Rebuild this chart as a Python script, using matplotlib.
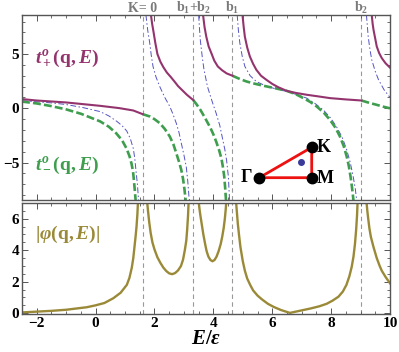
import numpy as np
import matplotlib
matplotlib.use("Agg")
import matplotlib.pyplot as plt
from matplotlib.ticker import MultipleLocator

plt.rcParams['mathtext.fontset'] = 'custom'
plt.rcParams['mathtext.rm'] = 'Liberation Serif:bold'
plt.rcParams['mathtext.it'] = 'Liberation Serif:bold:italic'
plt.rcParams['mathtext.bf'] = 'Liberation Serif:bold'
plt.rcParams['font.family'] = ['Liberation Serif', 'DejaVu Serif']
plt.rcParams['font.weight'] = 'bold'

# ---------------- data ----------------
vline_E = [1.6, 3.32, 4.65, 9.03]
vline_labels = ["K= 0", r"b$_\mathbf{1}$+b$_\mathbf{2}$", r"b$_\mathbf{1}$", r"b$_\mathbf{2}$"]

# t_+^o (purple solid), branches
tp_E = [
    [-2.5, -2.0, -1.0, 0.15, 0.8, 1.28, 1.6],
    [1.88, 1.92, 1.97, 2.03, 2.1, 2.2, 2.3, 2.42, 2.55, 2.7, 2.8, 2.95, 3.1, 3.32],
    [3.65, 3.7, 3.76, 3.84, 3.93, 4.03, 4.15, 4.3, 4.45, 4.65],
    [4.99, 5.03, 5.07, 5.15, 5.24, 5.35, 5.46, 5.62, 5.8, 6.0, 6.2, 6.49, 6.8, 7.17, 7.56, 7.96, 8.5, 9.03],
    [9.38, 9.41, 9.44, 9.5, 9.55, 9.63, 9.72, 9.85, 10.0],
]
tp_t = [
    [0.85, 0.72, 0.54, 0.23, 0.02, -0.2, -0.54],
    [8.6, 7.8, 7.0, 6.0, 5.0, 4.3, 3.8, 3.3, 2.9, 2.4, 2.05, 1.65, 1.25, 0.75],
    [8.6, 7.5, 6.6, 5.7, 5.1, 4.4, 3.86, 3.5, 3.22, 3.0],
    [8.6, 7.5, 6.6, 5.6, 4.78, 4.1, 3.55, 3.0, 2.63, 2.25, 1.95, 1.61, 1.42, 1.25, 1.1, 0.94, 0.82, 0.72],
    [8.6, 7.8, 7.24, 6.4, 5.7, 5.1, 4.63, 4.15, 3.75],
]

# t_-^o (green dashed), branches
tm_E = [
    [-2.5, -2.0, -1.5, -1.0, -0.5, 0.15, 0.45, 0.7, 0.9, 1.05, 1.15, 1.22, 1.27, 1.30, 1.33, 1.36],
    [1.6, 1.84, 2.0, 2.18, 2.35, 2.52, 2.64, 2.74, 2.83, 2.91, 2.97, 3.02, 3.06],
    [3.32, 3.42, 3.55, 3.7, 3.8, 3.9, 4.0, 4.1, 4.2, 4.28, 4.33, 4.37, 4.4, 4.43],
    [4.65, 4.9, 5.13, 5.4, 5.7, 6.1, 6.49, 6.8, 7.06, 7.3, 7.51, 7.75, 7.96, 8.15, 8.3, 8.43, 8.53, 8.6, 8.66, 8.71, 8.76],
    [9.03, 9.3, 9.55, 9.8, 10.0],
]
tm_t = [
    [0.62, 0.45, 0.2, -0.1, -0.5, -1.2, -1.7, -2.3, -2.95, -3.7, -4.4, -5.1, -5.8, -6.6, -7.5, -8.5],
    [-0.54, -0.75, -1.0, -1.37, -1.9, -2.6, -3.3, -4.13, -4.9, -5.67, -6.5, -7.5, -8.5],
    [0.75, 0.4, -0.1, -0.8, -1.3, -1.8, -2.4, -3.1, -3.9, -4.7, -5.5, -6.3, -7.3, -8.5],
    [3.0, 2.7, 2.47, 2.27, 2.08, 1.85, 1.61, 1.3, 0.94, 0.57, 0.17, -0.4, -1.06, -1.8, -2.6, -3.5, -4.45, -5.3, -6.3, -7.3, -8.5],
    [0.72, 0.5, 0.32, 0.13, 0.0],
]

# auxiliary (blue dash-dot), branches
tb_E = [
    [-2.5, -1.5, -1.0, -0.4, 0.15, 0.45, 0.72, 0.9, 1.06, 1.18, 1.28, 1.33, 1.37, 1.42, 1.46],
    [1.71, 1.77, 1.84, 1.89, 1.95, 2.05, 2.18, 2.35, 2.52, 2.63, 2.74, 2.83, 2.91, 3.0, 3.08, 3.13, 3.17, 3.19],
    [3.5, 3.53, 3.56, 3.62, 3.68, 3.8, 3.95, 4.1, 4.22, 4.32, 4.39, 4.45, 4.51, 4.55],
    [4.81, 4.85, 4.9, 4.98, 5.07, 5.25, 5.46, 5.75, 6.03, 6.49, 6.85, 7.17, 7.45, 7.73, 7.97, 8.18, 8.38, 8.53, 8.65, 8.75, 8.82, 8.87],
    [9.2, 9.26, 9.32, 9.38, 9.5, 9.61, 9.8, 10.0],
]
tb_t = [
    [0.7, 0.5, 0.35, 0.05, -0.3, -0.7, -1.2, -1.6, -2.1, -2.8, -3.7, -4.6, -5.7, -7.0, -8.5],
    [8.6, 7.2, 6.0, 4.9, 3.86, 2.9, 2.0, 1.0, 0.17, -0.55, -1.37, -2.2, -3.2, -4.3, -5.4, -6.7, -8.1, -8.5],
    [8.6, 7.3, 6.2, 4.8, 3.6, 2.0, 0.7, -0.5, -1.6, -2.9, -3.8, -4.8, -6.3, -8.5],
    [8.6, 7.2, 6.0, 4.8, 3.86, 3.0, 2.47, 2.1, 1.86, 1.55, 1.25, 0.94, 0.45, -0.14, -0.85, -1.68, -2.7, -3.83, -5.0, -6.3, -7.4, -8.5],
    [8.6, 6.6, 5.4, 4.47, 3.4, 2.63, 1.7, 1.0],
]

# |phi(q,E)| (olive), branches
ph_E = [
    [-2.5, -1.5, -1.0, -0.3, 0.0, 0.3, 0.6, 0.85, 1.06, 1.15, 1.23, 1.28, 1.32, 1.36, 1.39, 1.42, 1.44],
    [1.75, 1.78, 1.82, 1.87, 1.93, 2.0, 2.1, 2.2, 2.3, 2.4, 2.5, 2.6, 2.7, 2.8, 2.9, 2.97, 3.03, 3.08, 3.11, 3.14, 3.16],
    [3.5, 3.53, 3.56, 3.61, 3.66, 3.72, 3.77, 3.83, 3.9, 3.97, 4.04, 4.11, 4.18, 4.25, 4.3, 4.35, 4.39, 4.42, 4.44],
    [4.77, 4.8, 4.83, 4.87, 4.92, 5.0, 5.07, 5.15, 5.25, 5.35, 5.5, 5.65, 5.85, 6.05, 6.3, 6.6,
     6.8, 7.0, 7.3, 7.6, 7.85, 8.05, 8.25, 8.4, 8.52, 8.62, 8.7, 8.76, 8.81, 8.85, 8.88, 8.9],
    [9.2, 9.23, 9.26, 9.3, 9.35, 9.44, 9.55, 9.65, 9.72, 9.85, 10.0],
]
ph_v = [
    [0.05, 0.15, 0.22, 0.38, 0.5, 0.65, 0.95, 1.3, 1.8, 2.25, 2.9, 3.5, 4.2, 4.9, 5.5, 6.3, 7.1],
    [7.1, 6.5, 5.8, 5.1, 4.5, 4.05, 3.55, 3.2, 2.9, 2.68, 2.53, 2.48, 2.55, 2.72, 3.0, 3.4, 4.0, 4.6, 5.3, 6.2, 7.1],
    [7.1, 6.6, 6.2, 5.6, 5.0, 4.4, 3.95, 3.6, 3.38, 3.3, 3.38, 3.6, 3.95, 4.4, 4.85, 5.4, 6.0, 6.6, 7.1],
    [7.1, 6.4, 5.7, 5.0, 4.2, 3.3, 2.7, 2.2, 1.8, 1.45, 1.12, 0.88, 0.6, 0.4, 0.2, 0.02,
     0.1, 0.18, 0.3, 0.44, 0.6, 0.8, 1.05, 1.38, 1.8, 2.35, 2.95, 3.6, 4.4, 5.3, 6.2, 7.1],
    [7.1, 6.5, 6.0, 5.4, 4.85, 4.2, 3.5, 3.0, 2.7, 2.3, 1.9],
]

# Brillouin-zone inset: Gamma, K, M and the q point
bz_names = ["Γ", "K", "M"]
bz_x = [0.0, 1.0, 1.0]
bz_y = [0.0, 0.58, 0.0]
q_point = (0.80, 0.29)

# ---------------- styling ----------------
c_plus = '#94346e'
c_minus = '#3e9e4e'
c_blue = '#5454c4'
c_phi = '#9a8a38'
c_frame = '#555555'

fig = plt.figure(figsize=(3.99, 3.52), dpi=100)
ax1 = fig.add_axes([22/399, 1-200/352, 368/399, 185/352])
ax2 = fig.add_axes([22/399, 1-314/352, 368/399, 111/352])

for E, t in zip(tb_E, tb_t):
    ax1.plot(E, t, color=c_blue, lw=0.7, ls=(0, (6, 2.5, 1.5, 2.5)))
for E, t in zip(tm_E, tm_t):
    ax1.plot(E, t, color=c_minus, lw=1.9, ls=(0, (3.0, 1.2)))
for E, t in zip(tp_E, tp_t):
    ax1.plot(E, t, color=c_plus, lw=1.5)
for E, v in zip(ph_E, ph_v):
    ax2.plot(E, v, color=c_phi, lw=1.7)

for ax in (ax1, ax2):
    for e in vline_E:
        ax.axvline(e, color='#999999', lw=0.8, ls=(0, (4, 3)), zorder=0)
    ax.set_xlim(-2.5, 10)
    ax.xaxis.set_major_locator(MultipleLocator(2))
    ax.xaxis.set_minor_locator(MultipleLocator(0.5))
    ax.tick_params(which='both', direction='in', top=True, right=True,
                   color=c_frame, labelsize=11, pad=2)
    ax.tick_params(which='major', length=4, width=0.7)
    ax.tick_params(which='minor', length=2.2, width=0.6)
    for s in ax.spines.values():
        s.set_color(c_frame)
        s.set_linewidth(1.0)
    for lab in ax.get_xticklabels() + ax.get_yticklabels():
        lab.set_fontweight('bold')

ax1.set_ylim(-8.45, 8.6)
ax1.yaxis.set_major_locator(MultipleLocator(5))
ax1.yaxis.set_minor_locator(MultipleLocator(1))
ax1.tick_params(labelbottom=False)

ax2.set_ylim(-0.05, 7.0)
ax2.yaxis.set_major_locator(MultipleLocator(2))
ax2.yaxis.set_minor_locator(MultipleLocator(0.5))
ax2.set_xlabel(r"$E/\varepsilon$", fontsize=15, labelpad=0)

for e, lab in zip(vline_E, vline_labels):
    ax1.text(e, 8.9, lab, ha='center', va='baseline', color='#7a7a7a',
             fontsize=10, fontweight='bold')

ax1.text(-2.05, 4.6, r"$t^o_+(\mathbf{q},E)$", color=c_plus, fontsize=14,
         ha='left', va='center')
ax1.text(-2.05, -5.3, r"$t^o_-(\mathbf{q},E)$", color=c_minus, fontsize=14,
         ha='left', va='center')
ax2.text(-2.05, 5.0, r"$|\varphi(\mathbf{q},E)|$", color=c_phi, fontsize=14,
         ha='left', va='center')

# inset
axi = fig.add_axes([240/399, 1-190/352, 90/399, 55/352])
axi.set_xlim(-0.368, 1.349)
axi.set_ylim(-0.235, 0.815)
axi.axis('off')
axi.plot(bz_x + [bz_x[0]], bz_y + [bz_y[0]], color='#ee1111', lw=2.0, zorder=1)
axi.plot(bz_x, bz_y, 'o', color='black', ms=7.5, zorder=2)
axi.plot([q_point[0]], [q_point[1]], 'o', color='#3a3a9a', ms=4, zorder=2)
offs = {"Γ": (-0.13, 0.0, 'right'), "K": (0.1, 0.0, 'left'), "M": (0.1, -0.02, 'left')}
for n, x, y in zip(bz_names, bz_x, bz_y):
    dx, dy, ha = offs[n]
    axi.text(x + dx, y + dy, n, fontsize=13, fontweight='bold', ha=ha, va='center')

fig.savefig("out.png", dpi=100)
